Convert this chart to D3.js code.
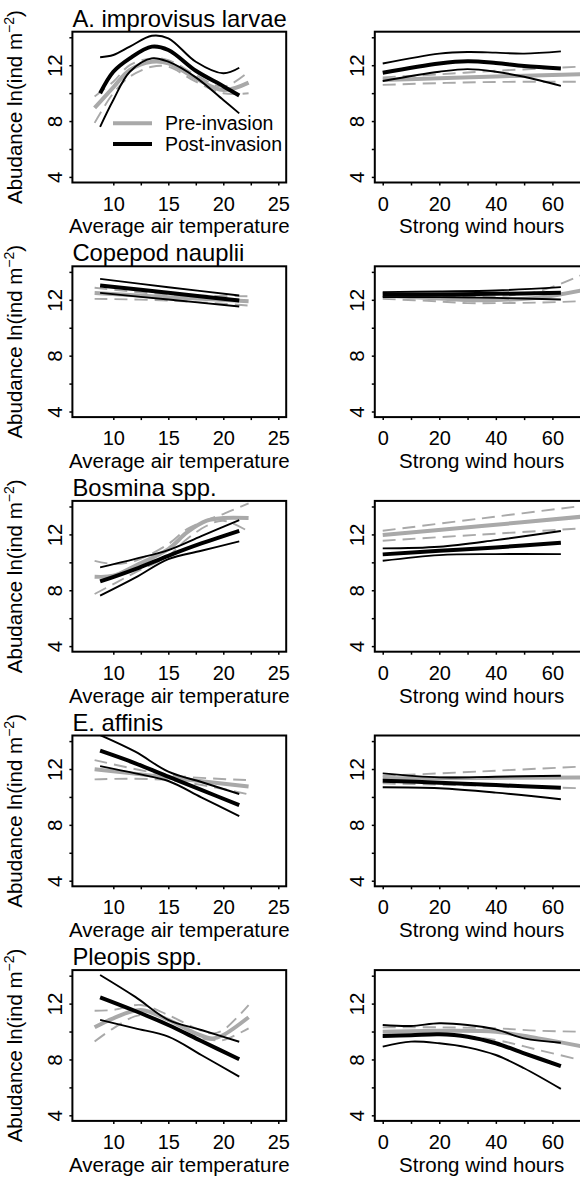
<!DOCTYPE html>
<html>
<head>
<meta charset="utf-8">
<script src="https://cdn.jsdelivr.net/npm/d3@7"></script>
<style>
  body { margin: 0; background: #fff; }
  svg { display: block; font-family: "Liberation Sans", Arial, Helvetica, sans-serif; }
</style>
</head>
<body>
<script>
// panel titles and axis labels
var species = ["A. improvisus larvae", "Copepod nauplii", "Bosmina spp.", "E. affinis", "Pleopis spp."];
var xTitles = ["Average air temperature", "Strong wind hours"];

// tick positions / labels
var tempTicks = [10, 12.5, 15, 17.5, 20, 22.5, 25];
var tempLabels = [10, 15, 20, 25];
var windTicks = [0, 10, 20, 30, 40, 50, 60, 70];
var windLabels = [0, 20, 40, 60];
var yTicks = [4, 6, 8, 10, 12, 14];
var yLabels = [4, 8, 12];

// each row: [x, fit, lower, upper]
var improvisusTempPre = [[8.3, 8.94, 7.87, 9.76], [10, 10.42, 10.0, 10.82], [11.5, 11.66, 11.18, 12.01], [13.5, 12.25, 11.89, 12.49], [15, 12.14, 11.89, 12.37], [17.5, 11.06, 10.82, 11.3], [20, 10.22, 9.99, 10.46], [22.3, 10.75, 9.99, 11.53]];
var improvisusTempPost = [[8.8, 9.99, 7.59, 12.57], [10, 11.53, 9.51, 12.73], [11.5, 12.49, 11.53, 13.33], [13.5, 13.33, 12.49, 14.11], [15, 13.09, 12.25, 13.93], [17.5, 11.6, 11.13, 12.25], [20, 10.5, 9.51, 11.42], [21.45, 9.83, 8.55, 11.82]];
var improvisusWindPre = [[0, 10.94, 10.59, 11.13], [20, 11.07, 10.72, 11.35], [40, 11.2, 10.8, 11.6], [60, 11.3, 10.82, 11.8], [70, 11.36, 10.82, 11.9]];
var improvisusWindPost = [[0, 11.46, 10.87, 12.12], [20, 12.12, 11.53, 12.83], [30, 12.28, 11.72, 12.95], [40, 12.16, 11.53, 12.9], [50, 11.95, 11.17, 12.83], [63, 11.77, 10.52, 12.99]];

var copepodTempPre = [[8.3, 12.48, 12.07, 12.86], [15, 12.19, 11.95, 12.38], [22.3, 11.9, 11.59, 12.26]];
var copepodTempPost = [[8.8, 13.03, 12.5, 13.5], [15, 12.5, 12.02, 12.9], [21.45, 11.95, 11.52, 12.31]];
var copepodWindPre = [[0, 12.3, 12.07, 12.47], [20, 12.1, 11.88, 12.3], [30, 11.98, 11.76, 12.2], [40, 11.98, 11.76, 12.25], [55, 12.15, 11.8, 12.6], [70, 12.66, 11.9, 13.75]];
var copepodWindPost = [[0, 12.36, 12.19, 12.55], [20, 12.38, 12.19, 12.6], [40, 12.43, 12.14, 12.67], [63, 12.5, 12.02, 12.91]];

var bosminaTempPre = [[8.3, 8.97, 7.73, 10.11], [10, 9.04, 8.44, 9.88], [12, 9.76, 9.28, 10.11], [15, 10.95, 10.47, 11.31], [16.7, 12.14, 11.67, 12.38], [18.5, 12.98, 12.62, 13.03], [20, 13.17, 12.98, 13.46], [22.3, 13.17, 12.21, 14.22]];
var bosminaTempPost = [[8.8, 8.63, 7.61, 9.64], [12, 9.52, 8.9, 10.25], [15, 10.47, 10.23, 10.88], [18, 11.35, 10.83, 11.88], [21.45, 12.26, 11.5, 13.03]];
var bosminaWindPre = [[0, 11.95, 11.55, 12.26], [35, 12.6, 11.99, 13.15], [70, 13.26, 12.43, 14.03]];
var bosminaWindPost = [[0, 10.57, 10.11, 11.0], [20, 10.83, 10.52, 11.12], [40, 11.07, 10.59, 11.59], [63, 11.4, 10.59, 12.24]];

var affinisTempPre = [[8.3, 11.98, 11.26, 12.64], [15, 11.4, 11.21, 11.57], [22.3, 10.74, 10.19, 11.21]];
var affinisTempPost = [[8.8, 13.31, 12.21, 14.43], [12, 12.41, 11.69, 13.24], [15, 11.45, 11.14, 11.81], [18, 10.5, 9.97, 11.07], [21.45, 9.42, 8.63, 10.21]];
var affinisWindPre = [[0, 11.33, 10.97, 11.5], [35, 11.36, 10.8, 11.83], [70, 11.4, 10.62, 12.17]];
var affinisWindPost = [[0, 11.16, 10.69, 11.69], [20, 11.02, 10.62, 11.4], [40, 10.85, 10.31, 11.45], [63, 10.66, 9.83, 11.52]];

var pleopisTempPre = [[8.3, 10.3, 9.28, 11.49], [10, 10.95, 10.23, 11.55], [12.5, 11.54, 11.18, 11.9], [15, 10.83, 10.47, 11.18], [17.5, 9.87, 9.63, 10.23], [19, 9.51, 9.39, 9.87], [20, 9.75, 9.39, 10.11], [22.3, 11.02, 10.23, 11.9]];
var pleopisTempPost = [[8.8, 12.45, 10.83, 14.05], [12, 11.47, 10.23, 12.48], [15, 10.47, 9.63, 10.84], [18, 9.32, 8.32, 10.11], [21.45, 8.01, 6.77, 9.27]];
var pleopisWindPre = [[0, 9.99, 9.63, 10.3], [20, 10.06, 9.75, 10.3], [40, 9.99, 9.39, 10.23], [55, 9.51, 8.68, 10.06], [70, 8.96, 7.96, 9.99]];
var pleopisWindPost = [[0, 9.68, 8.92, 10.47], [10, 9.73, 9.28, 10.4], [20, 9.8, 9.16, 10.59], [30, 9.63, 8.87, 10.47], [40, 9.16, 8.32, 10.16], [50, 8.44, 7.37, 9.51], [63, 7.53, 5.89, 9.2]];

var panels = [
  [improvisusTempPre, improvisusTempPost, improvisusWindPre, improvisusWindPost],
  [copepodTempPre, copepodTempPost, copepodWindPre, copepodWindPost],
  [bosminaTempPre, bosminaTempPost, bosminaWindPre, bosminaWindPost],
  [affinisTempPre, affinisTempPost, affinisWindPre, affinisWindPost],
  [pleopisTempPre, pleopisTempPost, pleopisWindPre, pleopisWindPost]
];

// layout
var colLeft = [72.4, 374.8],
    plotW = 213.8, plotH = 150.8,
    rowTop0 = 31.7, rowStep = 234.6;
var grey = "#a9a9a9";

var xTemp = d3.scaleLinear().domain([6.28, 25.72]).range([0, plotW]);
var xWind = d3.scaleLinear().domain([-2.8, 72.8]).range([0, plotW]);
var y = d3.scaleLinear().domain([3.6, 14.4]).range([plotH, 0]);

var svg = d3.select("body").append("svg")
    .attr("width", 580)
    .attr("height", 1181);

// dashed/thin bounds first, then the thick fit
function drawBand(g, data, xs, isPost) {
  var line = function(k) {
    return d3.line()
      .x(function(d) { return xs(d[0]); })
      .y(function(d) { return y(d[k]); })
      .curve(d3.curveCatmullRom.alpha(0.5));
  };
  var col = isPost ? "#000" : grey;
  [2, 3].forEach(function(k) {
    g.append("path")
      .datum(data)
      .attr("fill", "none")
      .attr("stroke", col)
      .attr("stroke-width", 1.9)
      .attr("stroke-dasharray", isPost ? null : "13,7")
      .attr("d", line(k));
  });
  g.append("path")
    .datum(data)
    .attr("fill", "none")
    .attr("stroke", col)
    .attr("stroke-width", 4)
    .attr("d", line(1));
}

species.forEach(function(name, r) {
  [0, 1].forEach(function(c) {
    var xs = c === 0 ? xTemp : xWind;
    var top = rowTop0 + r * rowStep;
    var g = svg.append("g")
        .attr("transform", "translate(" + colLeft[c] + "," + top + ")");

    var clipId = "clip" + r + c;
    g.append("clipPath").attr("id", clipId)
      .append("rect").attr("width", plotW).attr("height", plotH);

    var lines = g.append("g").attr("clip-path", "url(#" + clipId + ")");
    drawBand(lines, panels[r][c * 2], xs, false);
    drawBand(lines, panels[r][c * 2 + 1], xs, true);

    g.append("rect")
      .attr("width", plotW).attr("height", plotH)
      .attr("fill", "none").attr("stroke", "#000").attr("stroke-width", 2);

    // x axis
    var ticks = c === 0 ? tempTicks : windTicks;
    var labs = c === 0 ? tempLabels : windLabels;
    var xa = g.append("g")
        .attr("transform", "translate(0," + plotH + ")")
        .call(d3.axisBottom(xs).tickValues(ticks).tickSize(3).tickPadding(11)
          .tickFormat(function(d) { return labs.indexOf(d) >= 0 ? d : ""; }));
    xa.select(".domain").remove();
    xa.attr("font-size", 20).attr("font-family", null);
    xa.selectAll("line").attr("stroke-width", 1.5);
    xa.selectAll("text").filter(function() { return this.textContent === ""; }).remove();

    // y axis, labels rotated like R
    var ya = g.append("g")
        .call(d3.axisLeft(y).tickValues(yTicks).tickSize(3)
          .tickFormat(function(d) { return yLabels.indexOf(d) >= 0 ? d : ""; }));
    ya.select(".domain").remove();
    ya.attr("font-size", 20.5).attr("font-family", null);
    ya.selectAll("line").attr("stroke-width", 1.5);
    ya.selectAll("text").filter(function() { return this.textContent === ""; }).remove();
    ya.selectAll("text")
      .attr("transform", "rotate(-90)")
      .attr("x", 0).attr("y", -10.7).attr("dy", 0)
      .attr("text-anchor", "middle");

    // x title
    g.append("text")
      .attr("x", plotW / 2).attr("y", plotH + 51)
      .attr("text-anchor", "middle")
      .attr("font-size", 20.5)
      .text(xTitles[c]);

    if (c === 0) {
      g.append("text")
        .attr("x", 0).attr("y", -5)
        .attr("font-size", 23.8)
        .text(name);

      var yl = g.append("text")
        .attr("transform", "translate(-50," + plotH / 2 + ") rotate(-90)")
        .attr("text-anchor", "middle")
        .attr("font-size", 20.5);
      yl.append("tspan").text("Abudance ln(ind m");
      yl.append("tspan").attr("dy", -8).attr("font-size", 14).text("\u22122");
      yl.append("tspan").attr("dy", 8).text(")");
    }

    if (r === 0 && c === 0) {
      var leg = [["Pre-invasion", grey, 91.6], ["Post-invasion", "#000", 112.3]];
      leg.forEach(function(l) {
        g.append("line")
          .attr("x1", 40.6).attr("x2", 79.6)
          .attr("y1", l[2]).attr("y2", l[2])
          .attr("stroke", l[1]).attr("stroke-width", 4);
        g.append("text")
          .attr("x", 92.6).attr("y", l[2] + 7)
          .attr("font-size", 19.5)
          .text(l[0]);
      });
    }
  });
});
</script>
</body>
</html>
